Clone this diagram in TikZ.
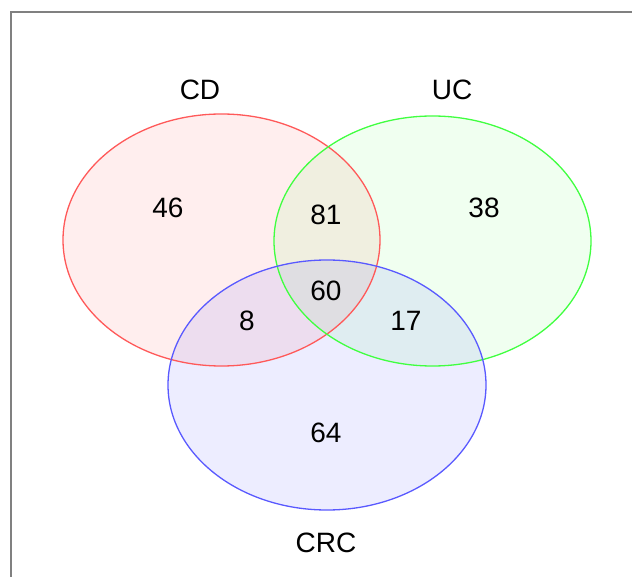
\documentclass[tikz,border=0pt]{standalone}
\usepackage{fontspec}
\setmainfont{Liberation Sans}
\begin{document}
\begin{tikzpicture}[x=1pt,y=-1pt,
  setline/.style={line width=1.3pt},
  lbl/.style={font=\fontsize{28}{32}\selectfont, inner sep=0pt},
  num/.style={font=\fontsize{28}{32}\selectfont, inner sep=0pt}]
\useasboundingbox (0,0) rectangle (632,577);
\begin{scope}
\clip (0,0) rectangle (632,577);
\draw[line width=2.2pt, draw=black!50] (11,12) rectangle (660,600);
\end{scope}
% ellipses fills
\fill[red, fill opacity=0.065] (221.5,240) ellipse [x radius=158.5, y radius=126];
\fill[green, fill opacity=0.06] (432.5,241) ellipse [x radius=158.5, y radius=125];
\fill[blue, fill opacity=0.07] (327,385) ellipse [x radius=159, y radius=125];
% outlines
\draw[setline, draw=red!65] (221.5,240) ellipse [x radius=158.5, y radius=126];
\draw[setline, draw=green!75] (432.5,241) ellipse [x radius=158.5, y radius=125];
\draw[setline, draw=blue!65] (327,385) ellipse [x radius=159, y radius=125];
% labels
\node[lbl] (cd) at (200,90) {CD};
\node[lbl] (uc) at (452,90) {UC};
\node[lbl] (crc) at (326,543) {CRC};
\node[num] (n46) at (168,208) {46};
\node[num] (n81) at (326,215) {81};
\node[num] (n38) at (484,208) {38};
\node[num] (n60) at (326,291) {60};
\node[num] (n8) at (247,321) {8};
\node[num] (n17) at (406,321) {17};
\node[num] (n64) at (326,433) {64};
\end{tikzpicture}
\end{document}
